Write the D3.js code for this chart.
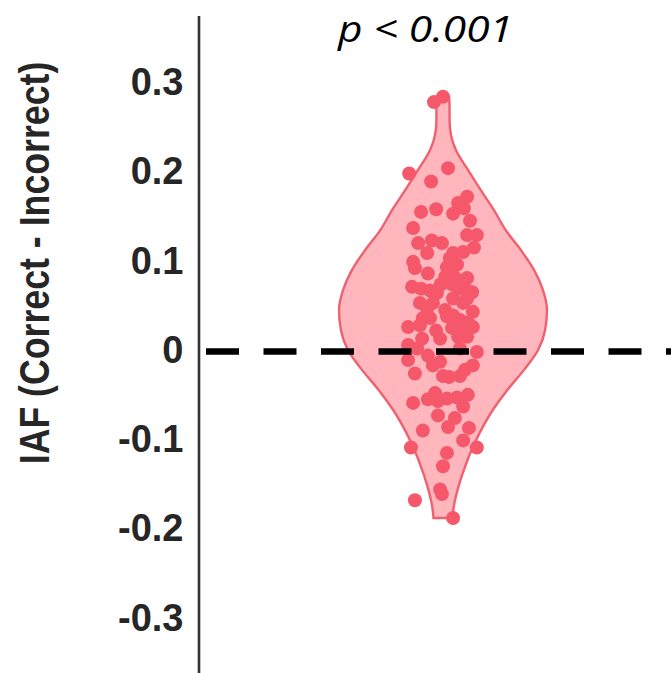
<!DOCTYPE html>
<html>
<head>
<meta charset="utf-8">
<script src="https://cdn.jsdelivr.net/npm/d3@7"></script>
<style>
  html, body { margin: 0; padding: 0; background: #fff; }
  svg { display: block; }
</style>
</head>
<body>
<svg id="chart" width="671" height="673"></svg>
<script>
// Per-participant IAF difference (Correct - Incorrect)
const iafDiff = [
  0.284, 0.278, 0.198, 0.204, 0.189, 0.172, 0.165, 0.159, 0.153, 0.158,
  0.155, 0.145, 0.137, 0.129, 0.129, 0.120, 0.123, 0.120, 0.115, 0.109,
  0.110, 0.109, 0.099, 0.092, 0.093, 0.096, 0.086, 0.082, 0.084, 0.078,
  0.081, 0.074, 0.069, 0.067, 0.065, 0.071, 0.069, 0.067, 0.064, 0.058,
  0.058, 0.053, 0.053, 0.047, 0.045, 0.039, 0.043, 0.036, 0.036, 0.034,
  0.031, 0.026, 0.028, 0.026, 0.025, 0.021, 0.013, 0.013, 0.015, 0.015,
  0.006, 0.002, 0.002, -0.006, -0.002, -0.013, -0.011, -0.017, -0.017, -0.022,
  -0.026, -0.029, -0.029, -0.030, -0.059, -0.055, -0.048, -0.057, -0.054, -0.053,
  -0.050, -0.063, -0.073, -0.076, -0.086, -0.090, -0.087, -0.101, -0.109, -0.109,
  -0.115, -0.130, -0.156, -0.161, -0.168, -0.188,
  0.103, 0.074, 0.038, 0.022, 0.053
];
// Horizontal jitter of each dot, as a fraction of the strip half-width
const jitter = [
  0.00, -0.25, -0.94, 0.14, -0.33, 0.67, 0.42, 0.58, 0.28, -0.19,
  -0.61, 0.75, -0.83, 0.67, 0.94, -0.69, -0.31, -0.03, 0.86, 0.28,
  0.56, -0.44, -0.83, -0.78, 0.11, 0.39, -0.42, 0.06, 0.28, 0.47,
  0.67, 0.25, 0.42, 0.67, 0.81, -0.86, -0.61, -0.36, -0.17, 0.28,
  0.67, -0.64, -0.28, -0.44, 0.06, 0.28, 0.83, -0.56, -0.36, 0.47,
  0.69, -0.97, -0.64, 0.83, 0.25, 0.47, -0.08, -0.58, 0.42, 0.67,
  -0.97, -0.72, 0.47, -0.42, 0.94, -0.08, -0.97, -0.28, 0.83, 0.61,
  -0.78, 0.00, 0.47, 0.17, -0.83, -0.42, -0.22, -0.14, 0.11, 0.39,
  0.69, 0.56, -0.14, 0.33, 0.14, -0.56, 0.72, 0.56, -0.89, 0.94,
  0.11, 0.00, -0.08, -0.03, -0.78, 0.28,
  0.19, -0.06, 0.11, -0.19, 0.56
];
// Violin outline: relative density at each IAF level
const violinLevels = [
  -0.188, -0.177, -0.140, -0.103, -0.065, -0.045, -0.022, 0.000, 0.022, 0.045,
  0.067, 0.090, 0.112, 0.134, 0.157, 0.179, 0.202, 0.224, 0.241, 0.258,
  0.274, 0.284
];
const violinDensity = [
  0.091, 0.101, 0.183, 0.308, 0.490, 0.615, 0.779, 0.913, 0.981, 1.000,
  0.962, 0.875, 0.750, 0.606, 0.490, 0.365, 0.240, 0.125, 0.077, 0.063,
  0.063, 0.058
];
const yTicks = [-0.3, -0.2, -0.1, 0, 0.1, 0.2, 0.3];
const groups = ["IAF"];
const yTitle = "IAF (Correct - Incorrect)";
const pText = "p < 0.001";

const svg = d3.select("#chart");

const y = d3.scaleLinear().domain([-0.37, 0.375]).range([680.5, 15.5]);
const x = d3.scaleBand().domain(groups).range([201, 685]);
const cx = x(groups[0]) + x.bandwidth() / 2;
const halfWidth = d3.scaleLinear().domain([0, 1]).range([0, 104]);
const jit = d3.scaleLinear().domain([-1, 1]).range([-36, 36]);

// violin body
const violinData = violinLevels.map((v, i) => ({ v, d: violinDensity[i] }));
const area = d3.area()
  .y(d => y(d.v))
  .x0(d => cx - halfWidth(d.d))
  .x1(d => cx + halfWidth(d.d))
  .curve(d3.curveMonotoneY);

svg.append("path")
  .datum(violinData)
  .attr("d", area)
  .attr("fill", "#ffb7bd")
  .attr("stroke", "#f0606f")
  .attr("stroke-width", 2.4);

// individual dots
svg.append("g")
  .selectAll("circle")
  .data(iafDiff.map((v, i) => ({ v, j: jitter[i] })))
  .join("circle")
  .attr("cx", d => cx + jit(d.j))
  .attr("cy", d => y(d.v))
  .attr("r", 7)
  .attr("fill", "#f5586a");

// zero reference line
svg.append("line")
  .attr("x1", 206).attr("x2", 671)
  .attr("y1", y(0) + 1.2).attr("y2", y(0) + 1.2)
  .attr("stroke", "#000")
  .attr("stroke-width", 6.5)
  .attr("stroke-dasharray", "33,24.5");

// y axis
const axis = svg.append("g")
  .attr("transform", "translate(198.5,0)")
  .call(d3.axisLeft(y)
    .tickValues(yTicks)
    .tickSize(0)
    .tickSizeOuter(0)
    .tickPadding(15)
    .tickFormat(d => d === 0 ? "0" : d.toFixed(1)));
axis.select(".domain").attr("stroke", "#333").attr("stroke-width", 2.6);
axis.selectAll(".tick text")
  .attr("fill", "#262626")
  .style("font-family", "'Liberation Sans', Arial, sans-serif")
  .style("font-weight", "bold")
  .style("font-size", "38px");

// y axis title (slightly condensed along its length)
svg.append("text")
  .attr("transform", "translate(49,263) rotate(-90) scale(0.85,1)")
  .attr("text-anchor", "middle")
  .attr("fill", "#262626")
  .style("font-family", "'Liberation Sans', Arial, sans-serif")
  .style("font-weight", "bold")
  .style("font-size", "42px")
  .text(yTitle);

// significance label
svg.append("text")
  .attr("x", 425.5)
  .attr("y", 42)
  .attr("text-anchor", "middle")
  .attr("textLength", 175)
  .attr("lengthAdjust", "spacingAndGlyphs")
  .attr("fill", "#000")
  .style("font-family", "'Open Sans', sans-serif")
  .style("font-style", "italic")
  .style("font-size", "37px")
  .text(pText);
</script>
</body>
</html>
